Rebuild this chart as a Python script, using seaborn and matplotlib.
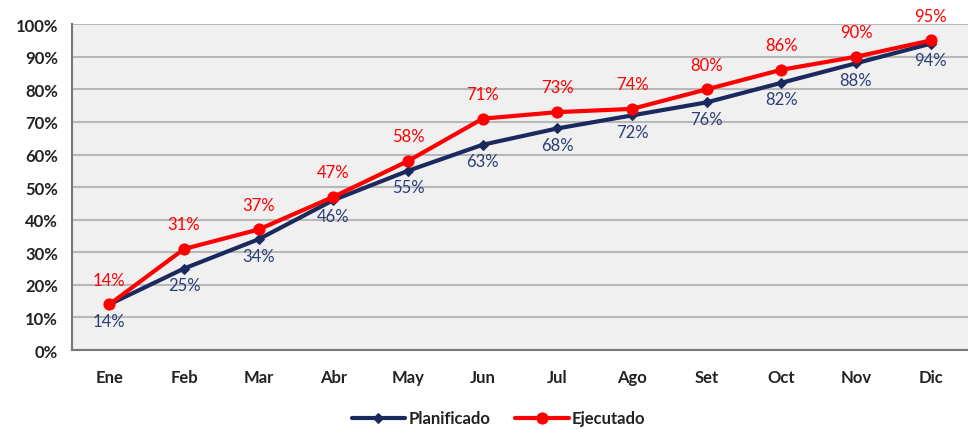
import matplotlib
matplotlib.use("Agg")
import matplotlib.pyplot as plt
import seaborn as sns
import pandas as pd
import numpy as np

months = ["Ene", "Feb", "Mar", "Abr", "May", "Jun", "Jul", "Ago", "Set", "Oct", "Nov", "Dic"]
planificado = [14, 25, 34, 46, 55, 63, 68, 72, 76, 82, 88, 94]
ejecutado = [14, 31, 37, 47, 58, 71, 73, 74, 80, 86, 90, 95]
y_ticks = [0, 10, 20, 30, 40, 50, 60, 70, 80, 90, 100]

sns.set_style("white")
plt.rcParams["font.family"] = ["Lato", "DejaVu Sans"]

navy = "#1b2a5e"
red = "#ff0000"
label_blue = "#2a3f7a"

df = pd.DataFrame({
    "mes": months * 2,
    "x": list(range(len(months))) * 2,
    "valor": planificado + ejecutado,
    "serie": ["Planificado"] * len(months) + ["Ejecutado"] * len(months),
})

fig = plt.figure(figsize=(9.68, 4.31), dpi=100)
ax = fig.add_axes([0.0744, 0.1856, 1 - 0.0744, 0.756])
ax.set_facecolor("#f0f0f0")

sns.lineplot(data=df[df.serie == "Planificado"], x="x", y="valor", ax=ax,
             color=navy, linewidth=3, marker="D", markersize=5,
             markeredgecolor=navy, label="Planificado", zorder=3)
sns.lineplot(data=df[df.serie == "Ejecutado"], x="x", y="valor", ax=ax,
             color=red, linewidth=3, marker="o", markersize=8,
             markeredgecolor=red, label="Ejecutado", zorder=4)

for i, v in enumerate(ejecutado):
    ax.annotate(f"{v}%", (i, v), xytext=(0, 12), textcoords="offset points",
                ha="center", va="bottom", color=red, fontsize=12)
for i, v in enumerate(planificado):
    ax.annotate(f"{v}%", (i, v), xytext=(0, -6), textcoords="offset points",
                ha="center", va="top", color=label_blue, fontsize=12)

ax.set_ylim(0, 100)
ax.set_xlim(-0.5, 11.38)
ax.set_yticks(y_ticks)
ax.set_yticklabels([f"{t}%" for t in y_ticks], fontweight="bold", fontsize=12, color="#222222")
ax.yaxis.grid(True, color="#b8b8b8", linewidth=1.5)
ax.set_axisbelow(True)

# category labels centred, tick marks at category boundaries
ax.set_xticks(range(len(months)))
ax.set_xticklabels(months, fontweight="bold", fontsize=12, color="#222222")
ax.tick_params(axis="x", which="major", length=0, pad=14)
ax.set_xticks(np.arange(-0.5, 12, 1), minor=True)
ax.tick_params(axis="x", which="minor", length=6, width=1.5, color="#777777", direction="out")
ax.tick_params(axis="y", length=6, width=1.5, color="#777777", direction="out", pad=4)

for side in ["top", "right"]:
    ax.spines[side].set_visible(False)
for side in ["left", "bottom"]:
    ax.spines[side].set_color("#777777")
    ax.spines[side].set_linewidth(1.5)

ax.set_xlabel("")
ax.set_ylabel("")
handles, labels = ax.get_legend_handles_labels()
ax.get_legend().remove()
leg = fig.legend(handles, labels, loc="center", bbox_to_anchor=(0.515, 0.027), ncol=2,
                 frameon=False, prop={"weight": "bold", "size": 12}, handlelength=3.2,
                 columnspacing=1.5, handletextpad=0.2, borderaxespad=0, borderpad=0)
for t in leg.get_texts():
    t.set_color("#222222")

fig.savefig("out.png", dpi=100)
